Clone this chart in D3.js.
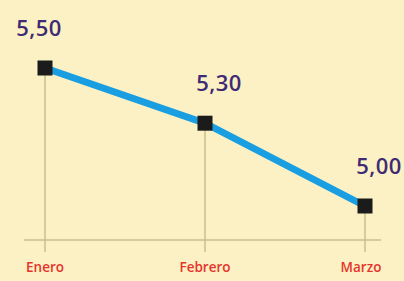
<!DOCTYPE html>
<meta charset="utf-8">
<script src="https://d3js.org/d3.v7.js"></script>
<style>
  body { margin: 0; background: #fcf1c5; }
</style>
<div id="chart"></div>

<script>

var meses = ["Enero", "Febrero", "Marzo"];
var valores = [5.50, 5.30, 5.00];
var etiquetas = ["5,50", "5,30", "5,00"];

var data = meses.map(function(m, i) {
  return {mes: m, valor: valores[i], etiqueta: etiquetas[i]};
});

var W = 404, H = 281;
var margin = {top: 68, right: 39, bottom: 75, left: 45},
    width = W - margin.left - margin.right,
    height = H - margin.top - margin.bottom;

var svg = d3.select("#chart")
  .append("svg")
    .attr("width", W)
    .attr("height", H)
  .append("g")
    .attr("transform", "translate(" + margin.left + "," + margin.top + ")");

svg.append("rect")
  .attr("x", -margin.left).attr("y", -margin.top)
  .attr("width", W).attr("height", H)
  .attr("fill", "#fcf1c5");

var x = d3.scalePoint()
  .domain(meses)
  .range([0, width]);

var y = d3.scaleLinear()
  .domain([5.0, 5.5])
  .range([height, 0]);

var ejeY = height + 34;

// base line
svg.append("line")
  .attr("x1", -21).attr("x2", width + 16)
  .attr("y1", ejeY).attr("y2", ejeY)
  .attr("stroke", "#c9bf8e")
  .attr("stroke-width", 1.5);

// drop lines
svg.selectAll(".drop")
  .data(data)
  .enter().append("line")
    .attr("class", "drop")
    .attr("x1", function(d) { return x(d.mes); })
    .attr("x2", function(d) { return x(d.mes); })
    .attr("y1", function(d) { return y(d.valor); })
    .attr("y2", ejeY + 12)
    .attr("stroke", "#c9bf8e")
    .attr("stroke-width", 1.5);

var linea = d3.line()
  .x(function(d) { return x(d.mes); })
  .y(function(d) { return y(d.valor); });

svg.append("path")
  .datum(data)
  .attr("d", linea)
  .attr("fill", "none")
  .attr("stroke", "#1a9ee2")
  .attr("stroke-width", 7);

svg.selectAll(".punto")
  .data(data)
  .enter().append("rect")
    .attr("class", "punto")
    .attr("x", function(d) { return x(d.mes) - 7.5; })
    .attr("y", function(d) { return y(d.valor) - 7.5; })
    .attr("width", 15)
    .attr("height", 15)
    .attr("fill", "#1c1b1c");

svg.selectAll(".valor")
  .data(data)
  .enter().append("text")
    .attr("class", "valor")
    .attr("x", function(d, i) { return x(d.mes) + (i == 0 ? -6 : 14); })
    .attr("y", function(d) { return y(d.valor) - 32; })
    .attr("text-anchor", "middle")
    .attr("font-family", "Open Sans")
    .attr("font-weight", 600)
    .attr("font-size", 22)
    .attr("letter-spacing", 0.5)
    .attr("fill", "#3f2b73")
    .text(function(d) { return d.etiqueta; });

svg.selectAll(".mes")
  .data(data)
  .enter().append("text")
    .attr("class", "mes")
    .attr("x", function(d, i) { return x(d.mes) + (i == meses.length - 1 ? -4 : 0); })
    .attr("y", height + 66)
    .attr("text-anchor", "middle")
    .attr("font-family", "Open Sans")
    .attr("font-weight", 600)
    .attr("font-size", 13.5)
    .attr("fill", "#e5342b")
    .text(function(d) { return d.mes; });

</script>
